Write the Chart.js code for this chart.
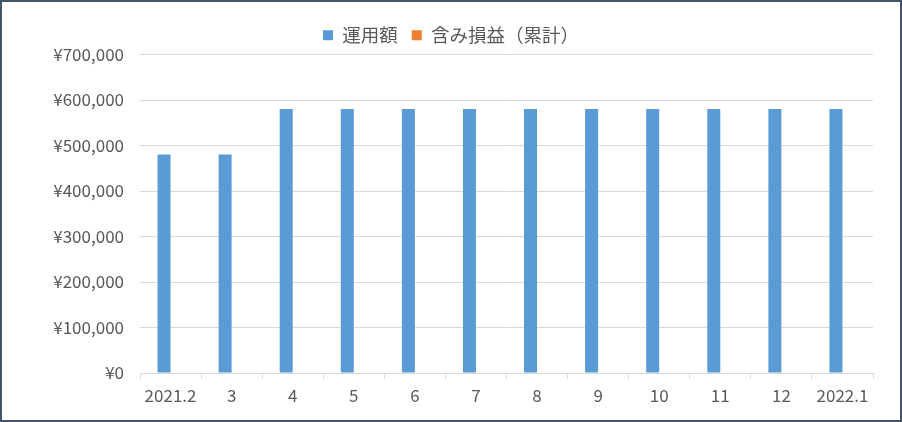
<!DOCTYPE html>
<html>
<head>
<meta charset="utf-8">
<script src="https://cdn.jsdelivr.net/npm/chart.js@4"></script>
<style>
  html, body { margin: 0; padding: 0; background: #fff; }
  #box { width: 902px; height: 422px; box-sizing: border-box; border: 2px solid #44546A; }
  #wrap { width: 898px; height: 418px; }
</style>
</head>
<body>
<div id="box"><div id="wrap"><canvas id="myChart"></canvas></div></div>
<script>
// 月
const months = ['2021.2', '3', '4', '5', '6', '7', '8', '9', '10', '11', '12', '2022.1'];
// 運用額
const unyougaku = [480000, 480000, 580000, 580000, 580000, 580000, 580000, 580000, 580000, 580000, 580000, 580000];
// 含み損益(累計)
const fukumi = [0, 0, 0, 0, 0, 0, 0, 0, 0, 0, 0, 0];
const yMax = 700000;
const yStep = 100000;

const fnt = "'Noto Sans CJK JP', 'Noto Sans', sans-serif";

function grafico() {
  const ctx = document.getElementById('myChart');
  new Chart(ctx, {
    type: 'bar',
    data: {
      labels: months,
      datasets: [{
        label: '運用額',
        data: unyougaku,
        backgroundColor: '#5B9BD5',
        categoryPercentage: 0.426,
        barPercentage: 1
      }, {
        label: '含み損益（累計）',
        data: fukumi,
        backgroundColor: '#ED7D31',
        categoryPercentage: 0.426,
        barPercentage: 1
      }]
    },
    options: {
      responsive: true,
      maintainAspectRatio: false,
      animation: false,
      layout: { padding: { left: 0, right: 0, top: 10, bottom: 0 } },
      plugins: {
        tooltip: { enabled: false },
        legend: {
          position: 'top',
          labels: {
            color: '#595959',
            font: { family: fnt, size: 18.5 },
            boxWidth: 10,
            boxHeight: 10,
            padding: 14
          },
          afterFit: function (l) { l.height = 41; }
        }
      },
      scales: {
        x: {
          grid: { display: true, drawOnChartArea: false, offset: true, tickLength: 6, color: '#d9d9d9' },
          border: { color: '#d9d9d9' },
          ticks: { color: '#595959', font: { family: fnt, size: 17 }, padding: 6, maxRotation: 0 },
          afterFit: function (axis) { axis.height = 47; }
        },
        y: {
          min: 0,
          max: yMax,
          grid: { color: '#d9d9d9', tickLength: 0, drawTicks: false },
          border: { display: false },
          ticks: {
            stepSize: yStep,
            color: '#595959',
            font: { family: fnt, size: 17 },
            padding: 16,
            callback: function (v) { return '¥' + v.toLocaleString('en-US'); }
          },
          afterFit: function (axis) { axis.width = 138; }
        },
        // 右側の余白用(非表示)
        yR: {
          position: 'right',
          min: 0,
          max: yMax,
          grid: { display: false },
          border: { display: false },
          ticks: { display: false },
          afterFit: function (axis) { axis.width = 27; }
        }
      }
    }
  });
}
grafico();
</script>
</body>
</html>
